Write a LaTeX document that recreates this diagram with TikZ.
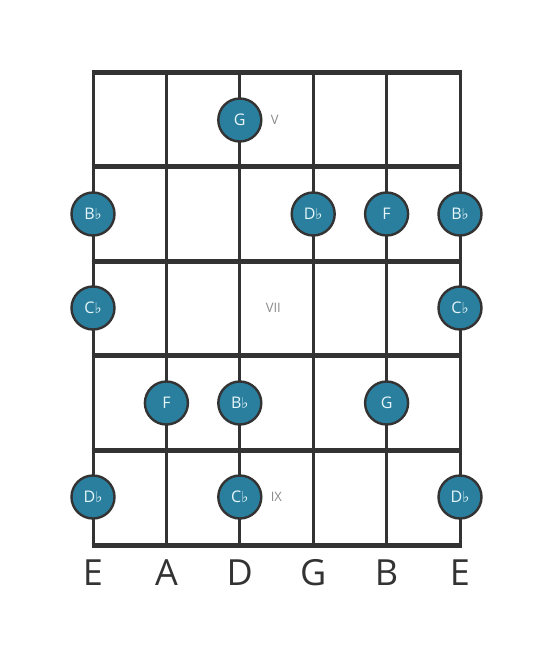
\documentclass[tikz,border=0pt]{standalone}
\usepackage{fontspec}
\setmainfont{Open Sans}
\newfontfamily\symfont{DejaVu Sans}
\usetikzlibrary{positioning}
\newcommand{\fl}{{\symfont\fontsize{15}{15}\selectfont ♭}}
\definecolor{notefill}{HTML}{2B7F9E}
\definecolor{notetext}{HTML}{E6F6FA}
\definecolor{gridcol}{HTML}{333333}
\definecolor{fretnum}{HTML}{8A8A8A}

\begin{document}
\begin{tikzpicture}[x=1pt,y=-1pt,line width=3pt,
	note/.style={circle,draw=gridcol,line width=2.4pt,fill=notefill,minimum size=43pt,inner sep=0pt,text=notetext,font=\fontsize{16}{16}\selectfont},
	fretlabel/.style={text=fretnum,font=\fontsize{13}{13}\selectfont,anchor=west},
	stringlabel/.style={text=gridcol,font=\fontsize{36}{36}\selectfont}]

	\useasboundingbox (0,0) rectangle (553,656);

	% strings
	\foreach \x in {93,166.4,239.8,313.2,386.6,460}
		\draw[gridcol] (\x,72) -- (\x,545);
	% frets
	\foreach \y in {72,166.6,261.2,355.8,450.4,545}
		\draw[gridcol,line width=5pt] (91.5,\y) -- (461.5,\y);

	\node[note] (g1) at (239.8,120) {G};
	\node[fretlabel] (v) at (266,120) {V};

	\node[note] (bb1) at (93,214) {B\fl};
	\node[note] (db1) at (313.2,214) {D\fl};
	\node[note] (f1) at (386.6,214) {F};
	\node[note] (bb2) at (460,214) {B\fl};

	\node[note] (cb1) at (93,308) {C\fl};
	\node[fretlabel] (vii) at (261,308) {VII};
	\node[note] (cb2) at (460,308) {C\fl};

	\node[note] (f2) at (166.4,403) {F};
	\node[note] (bb3) at (239.8,403) {B\fl};
	\node[note] (g2) at (386.6,403) {G};

	\node[note] (db2) at (93,497) {D\fl};
	\node[note] (cb3) at (239.8,497) {C\fl};
	\node[fretlabel] (ix) at (266,497) {IX};
	\node[note] (db3) at (460,497) {D\fl};

	% open strings
	\node[stringlabel] (e1) at (93,573) {E};
	\node[stringlabel] (a) at (166.4,573) {A};
	\node[stringlabel] (d) at (239.8,573) {D};
	\node[stringlabel] (g) at (313.2,573) {G};
	\node[stringlabel] (b) at (386.6,573) {B};
	\node[stringlabel] (e2) at (460,573) {E};
\end{tikzpicture}
\end{document}
